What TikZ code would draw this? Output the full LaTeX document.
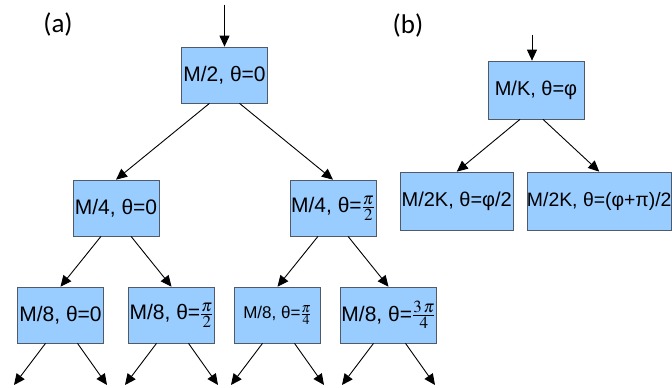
\documentclass[tikz,border=0pt]{standalone}
\usepackage{mathptmx}
\usepackage{fontspec}
\setmainfont{Liberation Sans}
\newfontfamily\lblfont{Carlito}
\usetikzlibrary{arrows.meta}
\definecolor{boxblue}{RGB}{153,204,255}
\definecolor{boxline}{RGB}{80,90,105}
\DeclareMathSizes{21}{21}{17}{12}
\DeclareMathSizes{17}{17}{14}{10}

\begin{document}
\begin{tikzpicture}[x=1pt,y=1pt,
        level 1/.style={level distance=133pt,sibling distance=217pt},
        level 2/.style={level distance=107pt,sibling distance=111pt},
        level 3/.style={level distance=70pt,sibling distance=93pt},
        font=\fontsize{21}{24}\selectfont,
        box/.style={draw=boxline,line width=0.7pt,fill=boxblue,inner sep=1pt,minimum width=86pt,minimum height=56pt},
        arr/.style={draw,line width=0.9pt,-{Triangle[length=11pt,width=10pt]}},
        edge from parent/.style={arr},
        to left/.style={edge from parent path={([xshift=-#1]\tikzparentnode.south) -- (\tikzchildnode.north)}},
        to right/.style={edge from parent path={([xshift=#1]\tikzparentnode.south) -- (\tikzchildnode.north)}},
        to leaf/.style={edge from parent path={([xshift=#1]\tikzparentnode.south) -- (\tikzchildnode)}},
        to left/.default=15pt, to right/.default=15pt]
    \useasboundingbox (0,0) rectangle (672,-388);

    \node[font=\lblfont\fontsize{27}{30}\selectfont] (la) at (58,-24) {(a)};
    \node[font=\lblfont\fontsize{27}{30}\selectfont] (lb) at (408,-25) {(b)};

    % (a)
    \node[box] (ra) at (224.5,-75) {M/2, θ=0}
    child[to left]  {node[box] (a1) {M/4, θ=0}
            child[to left]  {node[box] (a11) {M/8, θ=0}
                    child[to leaf=-15pt] {coordinate (e1)}
                    child[to leaf=17pt]  {coordinate (e2)}}
            child[to right] {node[box] (a12) {M/8, θ=$\frac{\pi}{2}$}
                    child[to leaf=-15pt] {coordinate (e3)}
                    child[to leaf=17pt]  {coordinate (e4)}}}
    child[to right] {node[box] (a2) {M/4, θ=$\frac{\pi}{2}$}
            child[to left]  {node[box,font=\fontsize{17}{20}\selectfont] (a21) {M/8, θ=$\frac{\pi}{4}$}
                    child[to leaf=-15pt] {coordinate (e5)}
                    child[to leaf=17pt]  {coordinate (e6)}}
            child[to right] {node[box,minimum width=93pt] (a22) {M/8, θ=$\frac{3\,\pi}{4}$}
                    child[to leaf=-15pt] {coordinate (e7)}
                    child[to leaf=17pt]  {coordinate (e8)}}};
    \coordinate (ina) at ([yshift=42pt]ra.north);
    \draw[arr] (ina) -- (ra.north);

    % (b)
    \begin{scope}[font=\fontsize{20}{24}\selectfont,
            level 1/.style={level distance=111pt,sibling distance=142.5pt},
            every child node/.style={box,minimum height=58pt,xshift=-8pt}]
    \node[box,minimum width=96pt,minimum height=58pt] (rb) at (536,-90) {M/K, θ=φ}
    child[to left=16pt] {node[minimum width=108pt] (b1) {M/2K, θ=φ/2}}
    child[to right=7pt] {node[minimum width=143pt,font=\fontsize{19.4}{24}\selectfont,inner sep=0pt] (b2) {M/2K, θ=(φ+π)/2}};
    \end{scope}
    \coordinate (inb) at ([xshift=-4pt,yshift=26pt]rb.north);
    \draw[arr] (inb) -- ([xshift=-4pt]rb.north);
\end{tikzpicture}
\end{document}
